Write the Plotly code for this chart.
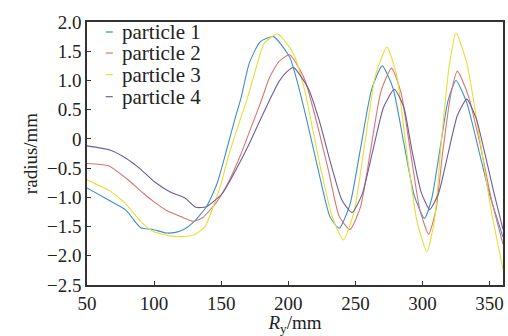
import plotly.graph_objects as go

# ---- data ----
names = ["particle 1", "particle 2", "particle 3", "particle 4"]
colors = ["#3f8fc8", "#d8766e", "#e6de38", "#6e5c9e"]

x1 = [50, 67, 79, 90, 99, 109, 116, 122, 130, 139, 147, 154, 160, 165, 171, 179, 189,
      201, 207, 214, 222, 231, 238, 246, 254, 262, 270, 278, 286, 294, 301.5,
      307, 313, 319, 325, 333, 342, 350, 360]
y1 = [-0.84, -1.06, -1.22, -1.52, -1.55, -1.61, -1.60, -1.55, -1.41, -1.16, -0.76, -0.19, 0.32, 0.72, 1.30, 1.66, 1.75,
      1.40, 0.95, 0.30, -0.50, -1.33, -1.53, -1.12, -0.14, 0.84, 1.25, 0.87, -0.06, -0.98, -1.36,
      -1.01, -0.18, 0.65, 1.00, 0.62, -0.20, -0.95, -1.68]

x2 = [50, 66, 79, 92, 99, 109, 120, 129, 136, 146, 155, 164, 172.5, 180, 186, 193, 201,
      212, 221, 230, 238, 246, 254, 261.5, 269, 277, 284, 291, 298, 304.6,
      310, 315, 321, 326, 334, 343, 351, 360]
y2 = [-0.42, -0.46, -0.67, -0.93, -1.06, -1.22, -1.33, -1.41, -1.35, -1.10, -0.76, -0.30, 0.21, 0.66, 1.05, 1.32, 1.44,
      1.03, 0.30, -0.55, -1.33, -1.55, -1.15, -0.17, 0.81, 1.21, 0.79, -0.21, -1.21, -1.63,
      -1.22, -0.24, 0.75, 1.16, 0.75, -0.10, -1.00, -1.80]

x3 = [50, 67, 78, 90, 99, 112, 122, 130, 138, 144, 150, 156, 164, 169, 174, 182, 192,
      204, 212, 217, 225, 233, 241, 249, 257, 265, 273.5, 281, 288, 296, 303.3,
      309, 314, 320, 325, 333, 342, 351, 360]
y3 = [-0.70, -0.89, -1.09, -1.41, -1.58, -1.66, -1.67, -1.64, -1.50, -1.16, -0.76, -0.25, 0.32, 0.66, 1.05, 1.63, 1.80,
      1.45, 0.85, 0.30, -0.60, -1.35, -1.73, -1.25, -0.08, 1.09, 1.57, 1.06, -0.18, -1.42, -1.93,
      -1.38, -0.06, 1.26, 1.81, 1.30, 0.10, -1.20, -2.23]

x4 = [50, 67, 79, 89, 100, 112, 123, 131, 139, 151, 161, 171, 179, 186, 193, 199, 204,
      215, 223, 232, 240, 247.5, 255, 263, 271, 279, 286, 292, 299, 305.4,
      312, 319, 326, 333, 340, 347, 353, 360]
y4 = [-0.12, -0.19, -0.33, -0.50, -0.73, -0.91, -1.01, -1.17, -1.16, -0.93, -0.53, -0.08, 0.32, 0.66, 0.98, 1.15, 1.22,
      0.86, 0.32, -0.45, -1.05, -1.26, -0.95, -0.20, 0.54, 0.85, 0.55, -0.18, -0.91, -1.21,
      -0.93, -0.26, 0.40, 0.68, 0.35, -0.30, -0.90, -1.55]

xs = [x1, x2, x3, x4]
ys = [y1, y2, y3, y4]

ytick_vals = [2.0, 1.5, 1.0, 0.5, 0, -0.5, -1.0, -1.5, -2.0, -2.5]
ytick_text = ["2.0", "1.5", "1.0", "0.5", "0", "\u22120.5", "\u22121.0", "\u22121.5", "\u22122.0", "\u22122.5"]
xtick_vals = [50, 100, 150, 200, 250, 300, 350]

FONT = "Liberation Serif"

fig = go.Figure()
for n, c, x, y in zip(names, colors, xs, ys):
    fig.add_trace(go.Scatter(x=x, y=y, name=n, mode="lines",
                             line=dict(color=c, width=1.1, shape="spline", smoothing=0.55),
                             showlegend=False))

# manual legend (short keys like the reference)
leg_y = [0.962, 0.882, 0.800, 0.716]
for n, c, ly in zip(names, colors, leg_y):
    fig.add_shape(type="line", xref="paper", yref="paper", x0=0.045, x1=0.062, y0=ly, y1=ly,
                  line=dict(color=c, width=1.2))
    fig.add_annotation(xref="paper", yref="paper", x=0.080, y=ly, text=n, showarrow=False,
                       xanchor="left", yanchor="middle", font=dict(family=FONT, size=21, color="#222"))

axis_common = dict(showline=True, linecolor="#333", linewidth=1.5, mirror=True,
                   ticks="inside", ticklen=4, tickcolor="#333", showgrid=False, zeroline=False,
                   automargin=False,
                   tickfont=dict(family=FONT, size=19, color="#222"))

fig.update_xaxes(range=[50, 360], tickvals=xtick_vals,
                 title=dict(text="<i>R</i><sub>y</sub>/mm", font=dict(family=FONT, size=19, color="#222"), standoff=0),
                 **axis_common)
fig.update_yaxes(range=[-2.5, 2.0], tickvals=ytick_vals, ticktext=ytick_text,
                 title=dict(text="radius/mm", font=dict(family=FONT, size=19, color="#222"), standoff=4),
                 **axis_common)

fig.update_layout(width=508, height=336, margin=dict(l=87, r=5, t=22, b=51),
                  font=dict(family=FONT),
                  plot_bgcolor="white", paper_bgcolor="white")

fig.write_html("out.html", config={"displayModeBar": False},
               post_script="document.body.style.margin='0';document.body.style.overflow='hidden';")
